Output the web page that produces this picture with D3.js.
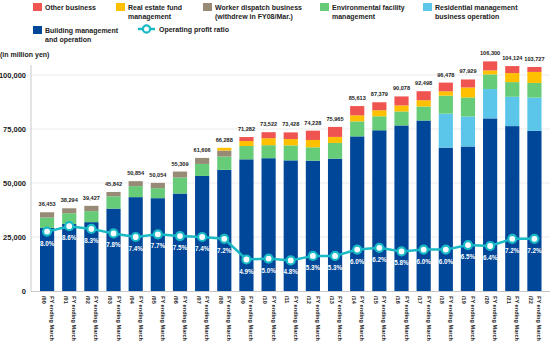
<!DOCTYPE html>
<html>
<head>
<meta charset="utf-8">
<script src="https://cdn.jsdelivr.net/npm/d3@7"></script>
<style>
  body { margin: 0; background: #fff; }
  svg { display: block; font-family: "Liberation Sans", "Noto Sans", sans-serif; }
</style>
</head>
<body>
<svg id="chart" width="550" height="347"></svg>
<script>
// fiscal years (FY ending March)
var years = ["/00","/01","/02","/03","/04","/05","/06","/07","/08","/09","/10","/11",
             "/12","/13","/14","/15","/16","/17","/18","/19","/20","/21","/22"];

// net sales, million yen
var totals = [36453, 38294, 39427, 45842, 50854, 50054, 55309, 61606, 66288, 71282, 73522, 73428,
              74228, 75965, 85613, 87379, 90078, 92498, 96478, 97929, 106300, 104124, 103727];

var building    = [29233, 31044, 31877, 38142, 43454, 42974, 45129, 53266, 56098, 60962, 61482, 60478,
                   60358, 61285, 71583, 74419, 76648, 78928, 66378, 66909, 79910, 76344, 74107];
var residential = [0, 0, 0, 0, 0, 0, 0, 0, 0, 0, 0, 0,
                   0, 0, 0, 0, 0, 0, 15740, 13890, 13580, 13580, 15430];
var environment = [4770, 4950, 5100, 5700, 5100, 4630, 7400, 5560, 6160, 6170, 6020, 6950,
                   6170, 7270, 6950, 6480, 6480, 6480, 8330, 8800, 6790, 6790, 6790];
var dispatch    = [2450, 2300, 2450, 2000, 2300, 2450, 2780, 2780, 2780, 0, 0, 0,
                   0, 0, 0, 0, 0, 0, 0, 0, 0, 0, 0];
var fund        = [0, 0, 0, 0, 0, 0, 0, 0, 1250, 2300, 3240, 2900,
                   3400, 2780, 2780, 2780, 2780, 2920, 2000, 4630, 1850, 4170, 5090];
var other       = [0, 0, 0, 0, 0, 0, 0, 0, 0, 1850, 2780, 3100,
                   4300, 4630, 4300, 3700, 4170, 4170, 4030, 3700, 4170, 3240, 2310];

// operating profit ratio, %
var ratio = [8.0, 8.6, 8.3, 7.8, 7.4, 7.7, 7.5, 7.4, 7.2, 4.9, 5.0, 4.8,
             5.3, 5.3, 6.0, 6.2, 5.8, 6.0, 6.0, 6.5, 6.4, 7.2, 7.2];

var yTicks = [0, 25000, 50000, 75000, 100000];

var series = [
  {key: "building",    name: ["Building management", "and operation"],          color: "#00479a", values: building},
  {key: "residential", name: ["Residential management", "business operation"], color: "#5bc5ea", values: residential},
  {key: "environment", name: ["Environmental facility", "management"],         color: "#66cc77", values: environment},
  {key: "dispatch",    name: ["Worker dispatch business", "(withdrew in FY08/Mar.)"], color: "#978b77", values: dispatch},
  {key: "fund",        name: ["Real estate fund", "management"],               color: "#ffc000", values: fund},
  {key: "other",       name: ["Other business"],                               color: "#f05451", values: other}
];

var svg = d3.select("#chart");

var x = d3.scaleBand().domain(years).range([36, 545.5]).paddingInner(0.36).paddingOuter(0.18);
var y = d3.scaleLinear().domain([0, 100000]).range([291, 75]);
var yR = d3.scaleLinear().domain([0, 10]).range([303.6, 213.6]);

var rows = years.map(function(yr, i) {
  var r = {year: yr};
  series.forEach(function(s) { r[s.key] = s.values[i]; });
  return r;
});
var stack = d3.stack().keys(series.map(function(s) { return s.key; }));
var layers = stack(rows);

// gridlines
svg.append("g").selectAll("line")
  .data(yTicks.slice(1))
  .enter().append("line")
  .attr("x1", 31).attr("x2", 550)
  .attr("y1", function(d) { return y(d); })
  .attr("y2", function(d) { return y(d); })
  .attr("stroke", "#ebebeb").attr("stroke-width", 1);

// y axis
var yAxis = svg.append("g")
  .attr("transform", "translate(31,0)")
  .call(d3.axisLeft(y).tickValues(yTicks).tickSize(0).tickPadding(5).tickFormat(d3.format(",")));
yAxis.select(".domain").remove();
yAxis.selectAll("text").attr("font-size", 7.5).attr("font-weight", 700).attr("fill", "#222")
  .attr("font-family", "Liberation Sans, sans-serif");

svg.append("line")
  .attr("x1", 31).attr("x2", 31).attr("y1", 65).attr("y2", 291)
  .attr("stroke", "#c8c8c8").attr("stroke-width", 1);

svg.append("text")
  .attr("x", 0).attr("y", 57)
  .attr("font-size", 7).attr("font-weight", 700).attr("fill", "#222")
  .text("(in million yen)");

// stacked bars
svg.append("g").selectAll("g")
  .data(layers)
  .enter().append("g")
  .attr("fill", function(d, i) { return series[i].color; })
  .selectAll("rect")
  .data(function(d) { return d; })
  .enter().append("rect")
  .attr("x", function(d) { return x(d.data.year); })
  .attr("y", function(d) { return y(d[1]); })
  .attr("width", x.bandwidth())
  .attr("height", function(d) { return y(d[0]) - y(d[1]); });

// baseline
svg.append("line")
  .attr("x1", 31).attr("x2", 550).attr("y1", 291.5).attr("y2", 291.5)
  .attr("stroke", "#c8c8c8").attr("stroke-width", 1);

// total labels
svg.append("g").selectAll("text")
  .data(totals)
  .enter().append("text")
  .attr("x", function(d, i) { return x(years[i]) + x.bandwidth() / 2; })
  .attr("y", function(d) { return y(d) - 6; })
  .attr("text-anchor", "middle")
  .attr("font-size", 5.6).attr("font-weight", 700).attr("fill", "#222")
  .text(function(d) { return d3.format(",")(d); });

// x labels
var xl = svg.append("g").selectAll("text")
  .data(years)
  .enter().append("text")
  .attr("transform", function(d) {
    return "translate(" + (x(d) + x.bandwidth() / 2 + 3) + ",296) rotate(90)";
  })
  .attr("font-size", 5.6).attr("font-weight", 700).attr("fill", "#222");
xl.append("tspan").attr("x", 0).attr("dy", 0).text("FY ending March");
xl.append("tspan").attr("x", 0).attr("dy", 8.5).text(function(d) { return d; });

// operating profit ratio line
var line = d3.line()
  .x(function(d, i) { return x(years[i]) + x.bandwidth() / 2; })
  .y(function(d) { return yR(d); });

svg.append("path")
  .datum(ratio)
  .attr("fill", "none")
  .attr("stroke", "#1ab9c6")
  .attr("stroke-width", 2.5)
  .attr("d", line);

svg.append("g").selectAll("circle")
  .data(ratio)
  .enter().append("circle")
  .attr("cx", function(d, i) { return x(years[i]) + x.bandwidth() / 2; })
  .attr("cy", function(d) { return yR(d); })
  .attr("r", 4)
  .attr("fill", "#fff")
  .attr("stroke", "#1ab9c6")
  .attr("stroke-width", 2.2);

svg.append("g").selectAll("text")
  .data(ratio)
  .enter().append("text")
  .attr("x", function(d, i) { return x(years[i]) + x.bandwidth() / 2; })
  .attr("y", function(d) { return yR(d) + 14; })
  .attr("text-anchor", "middle")
  .attr("font-size", 6.3).attr("font-weight", 700).attr("fill", "#fff")
  .text(function(d) { return d.toFixed(1) + "%"; });

// legend
var legendPos = {
  other:       [33, 3],
  fund:        [116, 3],
  dispatch:    [203, 3],
  environment: [320, 3],
  residential: [423, 3],
  building:    [33, 26]
};

series.forEach(function(s) {
  var p = legendPos[s.key];
  var g = svg.append("g").attr("transform", "translate(" + p[0] + "," + p[1] + ")");
  g.append("rect").attr("width", 9).attr("height", 8).attr("fill", s.color);
  var t = g.append("text").attr("font-size", 7).attr("font-weight", 700).attr("fill", "#222");
  s.name.forEach(function(ln, j) {
    t.append("tspan").attr("x", 12).attr("y", 6.5 + j * 9).text(ln);
  });
});

var lg = svg.append("g").attr("transform", "translate(138,29)");
lg.append("line").attr("x1", 0).attr("x2", 17).attr("stroke", "#1ab9c6").attr("stroke-width", 2.5);
lg.append("circle").attr("cx", 8.5).attr("r", 3.6).attr("fill", "#fff").attr("stroke", "#1ab9c6").attr("stroke-width", 2.2);
lg.append("text").attr("x", 21).attr("y", 2.5)
  .attr("font-size", 7).attr("font-weight", 700).attr("fill", "#222")
  .text("Operating profit ratio");
</script>
</body>
</html>
